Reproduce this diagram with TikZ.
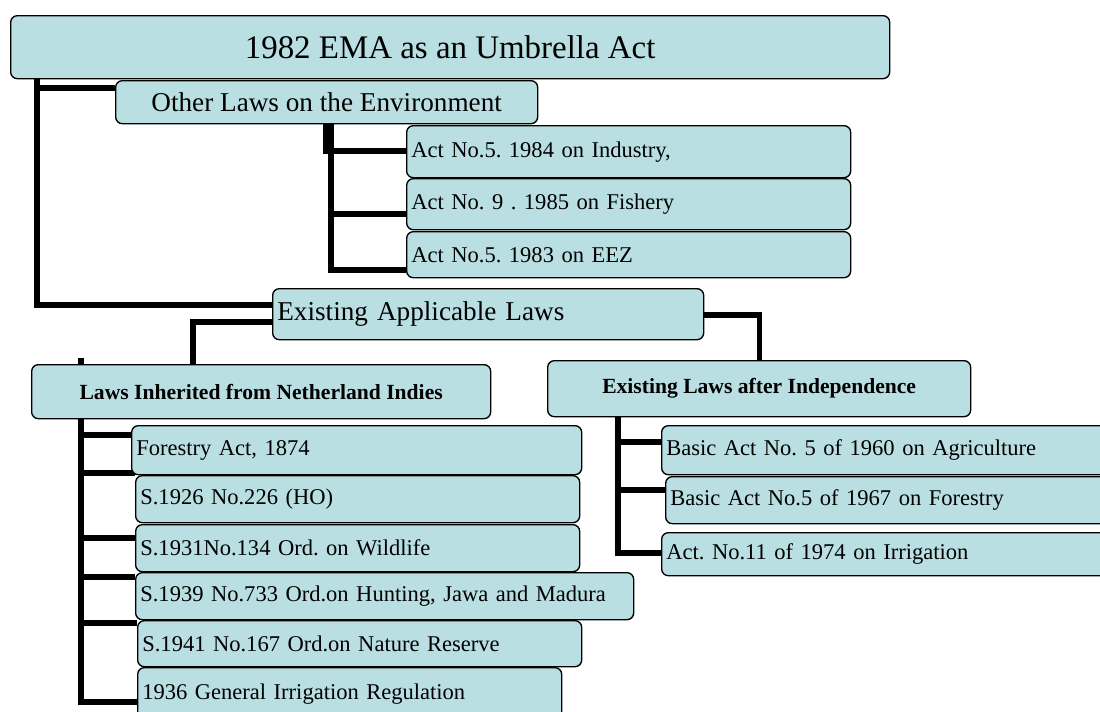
\documentclass[tikz,border=0pt]{standalone}
\usepackage{fontspec}
\setmainfont{Liberation Serif}
\usetikzlibrary{calc}
\pgfdeclarelayer{bg}
\pgfsetlayers{bg,main}
\definecolor{boxblue}{RGB}{185,223,227}
\frenchspacing

\begin{document}
\begin{tikzpicture}[
    x=0.75pt, y=-0.75pt,
    conn/.style={line width=4pt, line join=miter},
    box/.style={draw, rounded corners=5pt, line width=1pt, fill=boxblue, anchor=north west},
    cbox/.style={box, align=center, inner sep=0pt},
    lbox/.style={box, align=left, inner xsep=3.5pt, inner ysep=0pt},
    big/.style={font=\fontsize{24.7}{28}\selectfont},
    mid/.style={font=\fontsize{20.4}{24}\selectfont},
    head/.style={font=\fontsize{16.2}{19}\selectfont\bfseries},
    item/.style={font=\fontsize{16.9}{20}\selectfont}
]
\useasboundingbox (0,0) rectangle (1100,711);
\clip (0,0) rectangle (1100,711);

% umbrella act and first branch
\node[cbox, big, minimum width=659.25pt, minimum height=47.25pt] (title) at (10,15)
{1982 EMA as an Umbrella Act};
\node[cbox, mid, minimum width=316.5pt, minimum height=32.25pt] (other) at (115,80)
{Other Laws on the Environment};

\node[lbox, item, text width=326pt, minimum height=39pt] (act1) at (406,125)
{Act No.5. 1984 on Industry,};
\node[lbox, item, text width=326pt, minimum height=38.25pt] (act2) at (406,178)
{Act No. 9 . 1985 on Fishery};
\node[lbox, item, text width=326pt, minimum height=34.5pt] (act3) at (406,231)
{Act No.5. 1983 on EEZ};

% existing applicable laws
\node[lbox, mid, text width=316.25pt, minimum height=38.25pt] (applic) at (272,288)
{Existing Applicable Laws};

\node[cbox, head, minimum width=344.25pt, minimum height=40.5pt] (inherit) at (31,364)
{Laws Inherited from Netherland Indies};
\node[cbox, head, minimum width=317.25pt, minimum height=42pt] (indep) at (547,360)
{Existing Laws after Independence};

% netherland indies laws
\node[lbox, item, text width=330.5pt, minimum height=36.75pt] (f1874) at (131,425)
{Forestry Act, 1874};
\node[lbox, item, text width=326pt, minimum height=35.25pt] (s1926) at (135,475)
{S.1926 No.226 (HO)};
\node[lbox, item, text width=326pt, minimum height=35.25pt] (s1931) at (135,524)
{S.1931No.134 Ord. on Wildlife};
\node[lbox, item, text width=366.5pt, minimum height=35.25pt] (s1939) at (135,572)
{S.1939 No.733 Ord.on Hunting, Jawa and Madura};
\node[lbox, item, text width=326pt, minimum height=34.5pt] (s1941) at (137,620)
{S.1941 No.167 Ord.on Nature Reserve};
\node[lbox, item, text width=311pt, minimum height=39.75pt] (g1936) at (137,667)
{1936 General Irrigation Regulation};

% laws after independence
\node[lbox, item, text width=329.75pt, minimum height=36.75pt] (agri) at (661,425)
{Basic Act No. 5 of 1960 on Agriculture};
\node[lbox, item, text width=329.75pt, minimum height=35.25pt] (forest) at (665,476)
{Basic Act No.5 of 1967 on Forestry};
\node[lbox, item, text width=329.75pt, minimum height=32.25pt] (irrig) at (661,532)
{Act. No.11 of 1974 on Irrigation};

% connectors behind the boxes
\begin{pgfonlayer}{bg}
\draw[conn] ($(title.south west)+(27,0)$) |- ($(applic.north west)+(0,17)$);
\draw[conn] ($(other.north west)+(0,8)$) -| ($(title.south west)+(27,0)$);

\fill ($(other.south west)+(208,0)$) rectangle ($(other.south west)+(218,30)$);
\foreach \n/\d in {act1/26, act2/36, act3/39}
    \draw[conn] ($(\n.north west)+(0,\d)$) -| ($(other.south west)+(216,0)$);

\draw[conn] ($(applic.north west)+(0,34)$) -| ($(inherit.north west)+(162,0)$);
\draw[conn] ($(applic.north east)+(0,27)$) -| (indep.north);

\draw[conn] ($(inherit.north west)+(50,-6)$) |- ($(g1936.north west)+(0,35)$);
\foreach \n/\d in {f1874/10, s1926/-2, s1931/14, s1939/5, s1941/3}
    \draw[conn] ($(\n.north west)+(0,\d)$) -| ($(inherit.north west)+(50,0)$);

\foreach \n/\d in {agri/17, forest/14, irrig/21}
    \draw[conn] ($(\n.north west)+(0,\d)$) -| ($(indep.south west)+(71,0)$);
\end{pgfonlayer}

\end{tikzpicture}
\end{document}
